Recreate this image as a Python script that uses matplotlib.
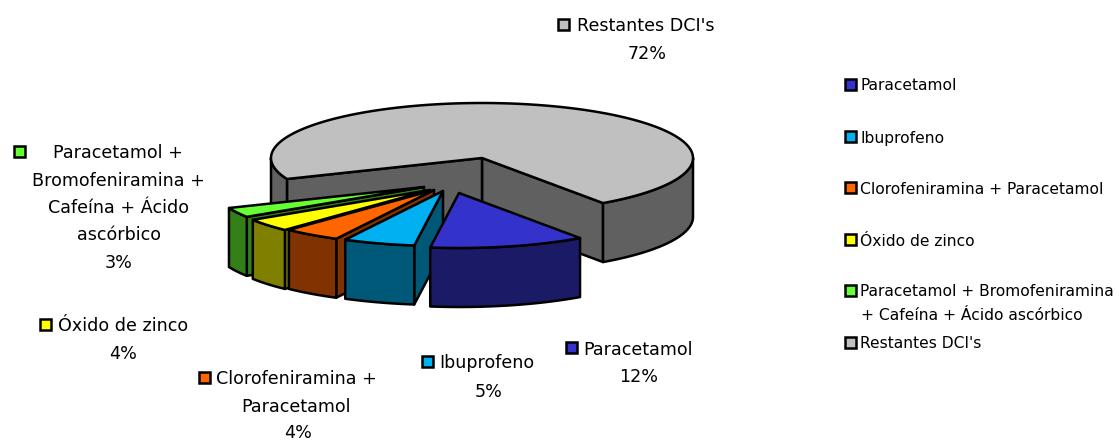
import numpy as np
import matplotlib
matplotlib.use("Agg")
import matplotlib.pyplot as plt
from matplotlib.patches import Polygon, Rectangle

# data

names = ["Paracetamol", "Ibuprofeno", "Clorofeniramina + Paracetamol", "Óxido de zinco",
         "Paracetamol + Bromofeniramina + Cafeína + Ácido ascórbico", "Restantes DCI's"]
shares = [11.9, 5.49, 4.4, 3.8, 2.9, 71.51]

top_colors = ["#3333CC", "#00B0F0", "#FF6600", "#FFFF00", "#66FF33", "#C0C0C0"]
side_colors = ["#1A1A66", "#005878", "#803300", "#808000", "#338019", "#606060"]

# pie geometry in pixels

cx, cy = 482, 158
rx, ry = 211, 55
depth = 59
start_angle = -55
shift_x = [-23, -39, -48, -52, -58, 0]
shift_y = [35, 33, 32, 32, 29, 0]

plt.rcParams['font.family'] = ['DejaVu Sans']

fig = plt.figure(figsize=(11.19, 4.40), dpi=100)
ax = fig.add_axes([0, 0, 1, 1])
ax.set_xlim(0, 1119)
ax.set_ylim(440, 0)
ax.axis("off")


def point(x0, y0, angle):
    a = np.radians(angle)
    return x0 + rx * np.cos(a), y0 - ry * np.sin(a)


def face(points, color, z):
    ax.add_patch(Polygon(points, closed=True, facecolor=color, edgecolor="black",
                         linewidth=1.8, joinstyle="round", zorder=z))


def draw_slice(x0, y0, a_from, a_to, top, side, z):
    # a_from < a_to, counter clockwise on the ellipse
    # cut walls that look to the viewer
    for edge, normal in [(a_from, a_from - 90), (a_to, a_to + 90)]:
        if np.sin(np.radians(normal)) < 0:
            ex, ey = point(x0, y0, edge)
            face([(x0, y0), (ex, ey), (ex, ey + depth), (x0, y0 + depth)], side, z)
    # outer rim, only the front half of the ellipse
    for low, high in [(-540, -360), (-180, 0), (180, 360)]:
        lo, hi = max(a_from, low), min(a_to, high)
        if hi > lo:
            arc = [point(x0, y0, a) for a in np.linspace(lo, hi, 80)]
            face(arc + [(x, y + depth) for x, y in arc[::-1]], side, z)
    arc = [point(x0, y0, a) for a in np.linspace(a_from, a_to, 200)]
    face([(x0, y0)] + arc, top, z + 0.5)


# angles go clockwise from start_angle, one slice after the other
total = sum(shares)
edges = [start_angle]
for s in shares:
    edges.append(edges[-1] - 360 * s / total)

# back slice first, then the exploded ones from left to right
draw_order = [5, 4, 3, 2, 1, 0]
for z, i in enumerate(draw_order):
    draw_slice(cx + shift_x[i], cy + shift_y[i], edges[i + 1], edges[i],
               top_colors[i], side_colors[i], z + 1)


def key(x, y, color):
    ax.add_patch(Rectangle((x - 5.5, y - 5.5), 11, 11, facecolor=color, edgecolor="black",
                           linewidth=1.8, zorder=20))


label_size = 12.65
legend_size = 11.2


def label(x, y, text, ha="center", size=label_size):
    ax.text(x, y + 1, text, ha=ha, va="center", fontsize=size, color="black", zorder=21)


pct = [f"{s:.0f}%" for s in shares]

# data labels

key(563, 25, top_colors[5])
label(577, 25, names[5], ha="left")
label(647, 53, pct[5])

key(571, 348, top_colors[0])
label(583, 349, names[0], ha="left")
label(639, 376, pct[0])

key(427, 362, top_colors[1])
label(439, 362, names[1], ha="left")
label(489, 391, pct[1])

key(204, 378, top_colors[2])
label(216, 378, "Clorofeniramina +", ha="left")
label(296, 406, "Paracetamol")
label(298, 432, pct[2])

key(45, 325, top_colors[3])
label(58, 325, names[3], ha="left")
label(123, 353, pct[3])

key(19, 152, top_colors[4])
label(53, 152, "Paracetamol +", ha="left")
label(118, 180, "Bromofeniramina +")
label(119, 207, "Cafeína + Ácido")
label(119, 234, "ascórbico")
label(119, 262, pct[4])

# legend on the right

legend_y = [85, 137, 188, 240, 291, 343]
for i, y in enumerate(legend_y):
    key(850, y, top_colors[i])
    if i == 4:
        label(860, y, "Paracetamol + Bromofeniramina", ha="left", size=legend_size)
        label(861, y + 23, "+ Cafeína + Ácido ascórbico", ha="left", size=legend_size)
    else:
        label(860, y, names[i], ha="left", size=legend_size)

plt.savefig("out.png", dpi=100)
